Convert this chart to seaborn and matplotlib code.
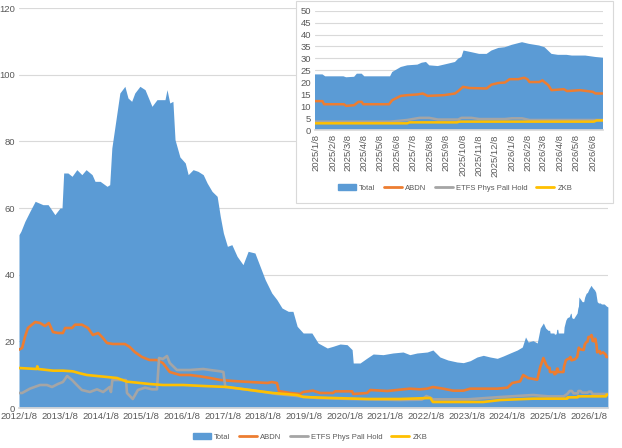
import pandas as pd
import numpy as np
import matplotlib
matplotlib.use("Agg")
import matplotlib.pyplot as plt
import seaborn as sns
from matplotlib.patches import Patch, Rectangle
from matplotlib.lines import Line2D

# Palladium ETF holdings: total area plus three holders as lines.
# Values (main chart up to 2024, inset detail for 2025-2026).

total_dates = [
    "2012-01-08", "2012-01-25", "2012-03-01", "2012-04-15", "2012-06-01", "2012-08-10",
    "2012-09-25", "2012-11-25", "2013-01-10", "2013-01-28", "2013-02-12", "2013-03-22",
    "2013-04-28", "2013-06-10", "2013-07-25", "2013-09-01", "2013-10-25", "2013-11-20",
    "2014-01-05", "2014-03-08", "2014-04-01", "2014-04-20", "2014-05-25", "2014-07-01",
    "2014-08-15", "2014-09-12", "2014-10-15", "2014-11-12", "2014-12-28", "2015-02-12",
    "2015-04-15", "2015-05-30", "2015-08-10", "2015-08-28", "2015-09-22", "2015-10-20",
    "2015-11-08", "2015-12-22", "2016-02-08", "2016-03-05", "2016-04-18", "2016-06-01",
    "2016-07-18", "2016-08-22", "2016-10-05", "2016-11-20", "2016-12-18", "2017-01-15",
    "2017-02-20", "2017-04-01", "2017-05-18", "2017-07-10", "2017-08-25", "2017-10-25",
    "2017-12-10", "2018-01-25", "2018-03-25", "2018-05-10", "2018-06-25", "2018-08-20",
    "2018-10-01", "2018-11-08", "2019-01-01", "2019-03-20", "2019-05-15", "2019-08-05",
    "2019-09-25", "2019-11-28", "2020-01-30", "2020-03-15", "2020-03-25", "2020-05-25",
    "2020-07-28", "2020-09-20", "2020-12-18", "2021-03-15", "2021-06-15", "2021-08-15",
    "2021-10-18", "2022-01-18", "2022-03-10", "2022-05-12", "2022-07-22", "2022-10-12",
    "2022-12-08", "2023-02-08", "2023-04-10", "2023-06-05", "2023-08-05", "2023-10-08",
    "2023-12-01", "2024-02-01", "2024-04-05", "2024-05-20", "2024-06-18", "2024-07-12",
    "2024-08-25", "2024-10-01", "2024-10-28", "2024-11-25", "2024-12-15",
    "2025-01-06", "2025-01-20", "2025-01-25", "2025-02-28", "2025-03-05", "2025-03-20",
    "2025-03-25", "2025-04-03", "2025-04-08", "2025-05-26", "2025-05-30", "2025-06-15",
    "2025-06-27", "2025-07-16", "2025-07-24", "2025-08-01", "2025-08-07", "2025-08-23",
    "2025-09-11", "2025-09-24", "2025-09-30", "2025-10-06", "2025-10-10", "2025-10-25",
    "2025-11-08", "2025-11-22", "2025-12-01", "2025-12-14", "2025-12-26", "2026-01-08",
    "2026-01-27", "2026-02-09", "2026-02-28", "2026-03-10", "2026-03-23", "2026-04-04",
    "2026-04-20", "2026-04-30", "2026-05-25", "2026-06-13", "2026-06-27",
]
total_vals = [
    52, 53, 56, 59, 62, 61,
    61, 58, 60, 60, 70.5, 70.5,
    69.5, 71.5, 70, 71.5, 70, 68,
    68, 66.5, 67, 78, 86, 94.5,
    96.5, 93, 92, 94.5, 96.5, 95.5,
    90.5, 92.5, 92.5, 95.5, 91.5, 92,
    80.5, 75.3, 73.5, 70, 71.5, 71,
    70, 67.5, 65, 63.5, 57.5, 52.5,
    48.5, 49, 45.5, 43, 47, 46.5,
    42.5, 38.5, 34.5, 32.5, 30, 29,
    29, 24.5, 22.5, 22.5, 19.5, 18,
    18.5, 19.2, 19, 17.5, 13.5, 13.5,
    15, 16.2, 16, 16.5, 16.8, 16,
    16.5, 16.8, 17.4, 15.3, 14.4, 13.8,
    13.6, 14.2, 15.3, 15.8, 15.3, 14.9,
    15.6, 16.5, 17.4, 18.3, 21.3, 19.8,
    20.2, 19.5, 24, 25.5, 24,
    23.3, 23.3, 22.5, 22.5, 22.1, 22.3,
    23.6, 23.6, 22.5, 22.5, 24.3, 26.4,
    27.1, 27.4, 28.2, 28.5, 27.1, 26.8,
    27.8, 28.5, 29.9, 30.6, 33.3, 32.6,
    31.9, 31.9, 33.3, 34.4, 34.7, 35.7,
    36.8, 36.1, 35.4, 34.7, 31.9, 31.5,
    31.5, 31.2, 31.2, 30.6, 30.3,
]

abdn_dates = [
    "2012-01-08", "2012-02-05", "2012-03-01", "2012-03-28", "2012-06-01", "2012-07-15",
    "2012-08-28", "2012-10-02", "2012-11-08", "2012-12-22", "2013-02-05", "2013-02-25",
    "2013-04-28", "2013-05-25", "2013-07-25", "2013-09-18", "2013-11-01", "2013-12-18",
    "2014-01-22", "2014-03-08", "2014-04-30", "2014-08-15", "2014-09-28", "2014-11-12",
    "2015-01-15", "2015-03-25", "2015-05-30", "2015-07-22", "2015-09-22", "2015-12-22",
    "2016-03-20", "2016-06-20", "2016-09-18", "2016-12-18", "2017-04-10", "2017-09-10",
    "2018-02-15", "2018-03-25", "2018-05-10", "2018-05-28", "2018-09-05", "2018-12-05",
    "2019-01-01", "2019-03-30", "2019-06-01", "2019-09-25", "2019-10-15", "2020-03-15",
    "2020-03-25", "2020-07-28", "2020-08-25", "2021-01-25", "2021-08-15", "2021-11-15",
    "2022-01-18", "2022-03-10", "2022-06-10", "2022-09-08", "2022-12-08", "2023-02-08",
    "2023-10-08", "2024-01-08", "2024-02-20", "2024-05-01", "2024-05-28", "2024-07-12",
    "2024-10-01", "2024-10-28", "2024-11-25", "2024-12-20",
    "2025-01-06", "2025-01-20", "2025-01-23", "2025-03-01", "2025-03-05", "2025-03-20",
    "2025-03-28", "2025-04-03", "2025-04-06", "2025-05-24", "2025-05-30", "2025-06-15",
    "2025-06-27", "2025-07-16", "2025-07-26", "2025-08-04", "2025-09-03", "2025-09-24",
    "2025-09-30", "2025-10-09", "2025-10-21", "2025-11-22", "2025-12-01", "2025-12-14",
    "2025-12-26", "2026-01-04", "2026-01-20", "2026-01-31", "2026-02-06", "2026-02-10",
    "2026-02-28", "2026-03-06", "2026-03-17", "2026-03-23", "2026-04-15", "2026-04-21",
    "2026-05-15", "2026-06-08", "2026-06-13", "2026-06-27",
]
abdn_vals = [
    17.5, 18, 21.3, 24, 25.8, 25.5,
    24.6, 25.5, 22.8, 22.5, 22.5, 24,
    24, 25, 25, 24, 21.9, 22.5,
    21.3, 19.5, 19.2, 19.2, 18.3, 16.8,
    15.3, 14.4, 14.4, 13.5, 10.8, 9.9,
    9.9, 9.5, 9, 8.4, 8.1, 7.8,
    7.5, 7.8, 7.5, 5.1, 4.5, 4.2,
    4.8, 5.2, 4.5, 4.5, 5, 5,
    4.2, 4.5, 5.4, 5.1, 5.8, 5.6,
    5.8, 6.3, 5.8, 5.2, 5.2, 5.8,
    5.8, 6.1, 7.5, 8, 9.9, 9,
    8.5, 12.3, 15, 13,
    12.1, 12.1, 10.8, 10.8, 10.1, 10.4,
    11.8, 11.8, 10.8, 10.8, 12.5, 14.3,
    14.6, 14.9, 15.3, 14.3, 14.6, 15.3,
    16.3, 18.1, 17.6, 17.4, 19, 19.7,
    19.9, 21.3, 21.3, 21.9, 21.3, 20.1,
    20.1, 20.8, 18.8, 16.7, 17.1, 16.3,
    16.7, 16, 15.3, 15.3,
]

etfs_dates = [
    "2012-01-08", "2012-02-05", "2012-04-15", "2012-07-15", "2012-09-15", "2012-10-30",
    "2012-12-22", "2013-02-05", "2013-03-15", "2013-04-28", "2013-06-10", "2013-07-25",
    "2013-10-05", "2013-12-08", "2014-02-01", "2014-04-01", "2014-04-12", "2014-04-25",
    "2014-08-25", "2014-09-03", "2014-10-25", "2014-12-10", "2015-02-12", "2015-04-15",
    "2015-05-30", "2015-06-18", "2015-07-22", "2015-08-28", "2015-09-22", "2015-11-25",
    "2016-03-20", "2016-07-18", "2016-09-18", "2016-12-18", "2017-01-15", "2017-02-01",
    "2017-09-10", "2018-05-10", "2018-11-08", "2019-05-05", "2020-02-25", "2021-05-18",
    "2021-12-01", "2022-01-10", "2022-02-20", "2022-03-10", "2023-01-15", "2023-11-05",
    "2024-08-25",
    "2025-01-06", "2025-05-26", "2025-06-27", "2025-07-20", "2025-08-07", "2025-08-23",
    "2025-09-30", "2025-10-06", "2025-10-25", "2025-11-08", "2025-12-26", "2026-01-08",
    "2026-01-27", "2026-02-10", "2026-06-27",
]
etfs_vals = [
    4.5, 4.5, 5.8, 6.9, 6.9, 6.3,
    7.2, 7.8, 9.6, 8.4, 6.9, 5.4,
    4.8, 5.6, 4.8, 6.3, 4.8, 8.4,
    8.4, 4.5, 2.7, 5.4, 6.1, 5.6,
    5.6, 15, 14.7, 15.6, 13.5, 11.4,
    11.4, 11.7, 11.4, 11, 10.8, 6.3,
    5.4, 4.2, 3.6, 3, 2.7, 2.4,
    2.5, 3.6, 3.0, 2.6, 2.6, 3.3,
    3.9,
    3.5, 3.5, 4.2, 5.1, 5.1, 4.4,
    4.4, 5.1, 5.1, 4.6, 4.6, 4.9,
    4.9, 4.2, 4.2,
]

zkb_dates = [
    "2012-01-08", "2012-06-15", "2012-06-20", "2012-06-28", "2012-11-08", "2013-02-05",
    "2013-05-05", "2013-07-08", "2013-09-08", "2013-12-08", "2014-03-08", "2014-06-05",
    "2014-09-03", "2014-12-01", "2015-03-25", "2015-07-22", "2016-01-20", "2016-07-18",
    "2017-02-20", "2017-09-10", "2018-04-05", "2018-11-08", "2019-01-01", "2019-09-25",
    "2020-07-28", "2021-05-18", "2022-02-15", "2022-03-10", "2023-06-05", "2023-11-05",
    "2024-08-25",
    "2025-01-06", "2025-06-27", "2025-07-01", "2025-09-28", "2025-10-02", "2026-06-10",
    "2026-06-15", "2026-06-27",
]
zkb_vals = [
    12, 11.7, 12.5, 11.7, 11.2, 11.2,
    11, 10.4, 9.9, 9.6, 9.3, 9,
    7.9, 7.6, 7.2, 6.9, 6.9, 6.6,
    6.3, 5.4, 4.5, 3.9, 3.3, 3,
    2.7, 2.7, 3, 1.8, 1.8, 2.4,
    2.8,
    2.8, 2.8, 3.2, 3.2, 3.5, 3.5,
    4, 4,
]

series_names = ["ABDN", "ETFS Phys Pall Hold", "ZKB"]
series_colors = ["#ED7D31", "#A5A5A5", "#FFC000"]
total_color = "#5B9BD5"

main_years = list(range(2012, 2027))
inset_months = pd.date_range("2025-01-01", "2026-06-01", freq="MS")

sns.set_theme(style="white")
plt.rcParams["font.family"] = ["Liberation Sans", "DejaVu Sans"]

total = pd.DataFrame({"date": pd.to_datetime(total_dates), "value": total_vals})
lines = pd.concat([
    pd.DataFrame({"date": pd.to_datetime(d), "value": v, "series": n})
    for n, d, v in zip(series_names, [abdn_dates, etfs_dates, zkb_dates],
                       [abdn_vals, etfs_vals, zkb_vals])
], ignore_index=True)

W, H = 622, 448
fig = plt.figure(figsize=(W / 100, H / 100), dpi=100)
fig.patch.set_facecolor("white")

label_color = "#595959"
grid_color = "#D9D9D9"
fs = 6.8
leg_fs = 5.5


def draw(ax, lw):
    ax.fill_between(total["date"], total["value"], color=total_color, lw=0, zorder=1)
    sns.lineplot(data=lines, x="date", y="value", hue="series", hue_order=series_names,
                 palette=series_colors, estimator=None, linewidth=lw, legend=False,
                 ax=ax, zorder=2)
    ax.set_xlabel("")
    ax.set_ylabel("")
    ax.grid(axis="y", color=grid_color, lw=0.8)
    ax.set_axisbelow(True)
    for s in ["top", "right", "left"]:
        ax.spines[s].set_visible(False)
    ax.spines["bottom"].set_color(grid_color)
    ax.tick_params(length=0, labelsize=fs, colors=label_color, pad=3)


def legend_handles():
    handles = [Patch(color=total_color)] + [Line2D([], [], color=c, lw=2) for c in series_colors]
    return handles, ["Total"] + series_names


leg_kw = dict(ncol=4, frameon=False, fontsize=leg_fs, handlelength=2.4, handleheight=0.9,
              columnspacing=1.1, handletextpad=0.4, labelcolor=label_color)

# main chart
ax = fig.add_axes([19 / W, 1 - 408 / H, (608 - 19) / W, 400 / H])
draw(ax, 1.9)
ax.set_ylim(0, 120)
ax.set_yticks(range(0, 121, 20))
ax.set_xlim(pd.Timestamp("2012-01-08"), pd.Timestamp("2026-06-28"))
ax.set_xticks(pd.to_datetime([f"{y}-01-08" for y in main_years]))
ax.set_xticklabels([f"{y}/1/8" for y in main_years])

h, l = legend_handles()
fig.legend(h, l, loc="center", bbox_to_anchor=(310 / W, 1 - 437 / H), **leg_kw)

# inset box
box = Rectangle((296 / W, 1 - 203 / H), (613 - 296) / W, 202 / H, transform=fig.transFigure,
                facecolor="white", edgecolor=grid_color, lw=0.8, zorder=1)
fig.add_artist(box)

axi = fig.add_axes([315 / W, 1 - 130 / H, (603 - 315) / W, (130 - 10.7) / H])
axi.set_zorder(2)
axi.patch.set_alpha(0)
draw(axi, 1.8)
axi.set_ylim(0, 50)
axi.set_yticks(range(0, 51, 5))
axi.set_xlim(pd.Timestamp("2025-01-06"), pd.Timestamp("2026-06-27"))
tick_days = inset_months + pd.Timedelta(days=7)
axi.set_xticks(tick_days)
axi.set_xticklabels([f"{d.year}/{d.month}/{d.day}" for d in tick_days], rotation=90)

axi.legend(h, l, loc="center", bbox_to_anchor=(455 / W, 1 - 188 / H),
           bbox_transform=fig.transFigure, **leg_kw)

fig.savefig("out.png", dpi=100)
